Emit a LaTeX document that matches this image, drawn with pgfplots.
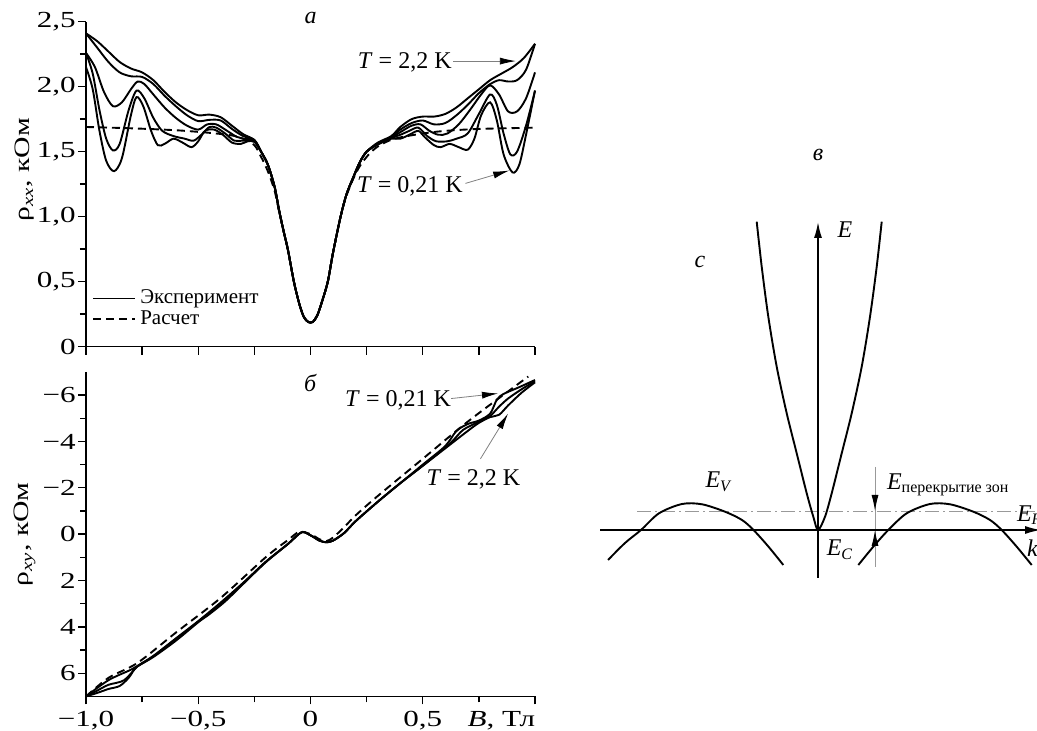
\documentclass[border=0pt]{standalone}
\usepackage{fontspec}
\setmainfont{Liberation Serif}
\newfontfamily\widefont{Liberation Serif}[FakeStretch=1.35]
\usepackage{pgfplots}
\pgfplotsset{compat=1.18}
\usetikzlibrary{arrows.meta}
\tikzset{lbl/.style={font=\fontsize{12}{14}\selectfont}}
\begin{document}
\begin{tikzpicture}
\useasboundingbox (0pt,0pt) rectangle (518.5pt,365.5pt);
\pgfplotsset{
  panel/.style={scale only axis, width=224.5pt, xmin=-1, xmax=1,
    axis x line*=bottom, axis y line*=left, tick align=outside,
    major tick length=4pt, minor tick length=3pt,
    tick style={black, line width=0.7pt}, axis line style={line width=0.75pt},
    tick label style={font=\widefont\fontsize{11.5}{13}\selectfont},
    yticklabel style={inner xsep=1pt},
    label style={font=\widefont\fontsize{11}{13}\selectfont},
    clip=false},
  exp/.style={black, line width=0.95pt, smooth},
  calc/.style={black, line width=0.95pt, smooth, dash pattern=on 4pt off 2.5pt},
  ann/.style={gray, line width=0.4pt, -{Latex[length=8pt,width=3.5pt,color=black]}},
}
% ---------- panel a ----------
\begin{axis}[panel, at={(43pt,192.15pt)}, anchor=south west, height=162.5pt,
  ymin=0, ymax=2.5, ytick={0,0.5,1,1.5,2,2.5},
  yticklabels={0,{0,5},{1,0},{1,5},{2,0},{2,5}},
  minor ytick={0.25,0.75,1.25,1.75,2.25},
  xtick={-1,-0.75,-0.5,-0.25,0,0.25,0.5,0.75,1}, xticklabels={},
  ylabel={ρ\textsubscript{\textit{xx}}, кОм},
  ylabel style={at={(axis description cs:-0.136,0.544)}, anchor=center},
  legend style={at={(axis cs:-1,0.5)}, anchor=north west, draw=none, fill=none,
    font=\fontsize{10.5}{12.5}\selectfont, row sep=-2pt},
  legend cell align=left,
  legend image code/.code={\draw[#1] (0pt,0pt) -- (21pt,0pt);}]
\addplot[exp, forget plot] coordinates {(-1,2.41) (-0.95,2.35) (-0.9,2.27) (-0.85,2.19) (-0.8,2.14) (-0.75,2.11) (-0.7,2.05) (-0.65,1.96) (-0.6,1.88) (-0.55,1.82) (-0.5,1.78) (-0.45,1.785) (-0.4,1.765) (-0.35,1.70) (-0.3,1.635)
 (-0.25,1.59) (-0.22,1.50) (-0.19,1.40) (-0.16,1.23) (-0.14,1.05) (-0.12,0.89) (-0.1,0.74) (-0.074,0.5) (-0.05,0.33) (-0.03,0.23) (-0.01,0.19) (0.01,0.19) (0.03,0.24) (0.05,0.34) (0.077,0.5) (0.1,0.72) (0.134,1.0) (0.16,1.17) (0.19,1.3) (0.22,1.42) (0.25,1.5) (0.3,1.57) (0.36,1.62)
 (0.4,1.69) (0.45,1.75) (0.5,1.77) (0.55,1.77) (0.6,1.79) (0.65,1.84) (0.7,1.91) (0.75,1.98) (0.8,2.05) (0.85,2.10) (0.9,2.15) (0.95,2.22) (1.0,2.33)};
\addplot[exp, forget plot] coordinates {(-1,2.41) (-0.95,2.30) (-0.9,2.19) (-0.85,2.11) (-0.8,2.08) (-0.75,2.075) (-0.7,2.02) (-0.65,1.93) (-0.6,1.85) (-0.55,1.78) (-0.5,1.735) (-0.45,1.745) (-0.4,1.74) (-0.35,1.675) (-0.3,1.62)
 (-0.25,1.59) (-0.22,1.50) (-0.19,1.40) (-0.16,1.23) (-0.14,1.05) (-0.12,0.89) (-0.1,0.74) (-0.074,0.5) (-0.05,0.33) (-0.03,0.23) (-0.01,0.19) (0.01,0.19) (0.03,0.24) (0.05,0.34) (0.077,0.5) (0.1,0.72) (0.134,1.0) (0.16,1.17) (0.19,1.3) (0.22,1.42) (0.25,1.5) (0.3,1.565) (0.36,1.615)
 (0.4,1.67) (0.45,1.72) (0.5,1.74) (0.55,1.71) (0.6,1.72) (0.65,1.78) (0.7,1.86) (0.75,1.95) (0.8,2.02) (0.84,2.05) (0.88,2.04) (0.92,2.05) (0.96,2.13) (1.0,2.33)};
\addplot[exp, forget plot] coordinates {(-1,2.26) (-0.96,2.15) (-0.92,1.96) (-0.88,1.85) (-0.84,1.88) (-0.8,1.98) (-0.77,2.04) (-0.74,2.02) (-0.7,1.94) (-0.65,1.84) (-0.6,1.76) (-0.55,1.70) (-0.5,1.67) (-0.46,1.71) (-0.42,1.71) (-0.38,1.67) (-0.33,1.615) (-0.3,1.6)
 (-0.25,1.585) (-0.22,1.50) (-0.19,1.40) (-0.16,1.23) (-0.14,1.05) (-0.12,0.89) (-0.1,0.74) (-0.074,0.5) (-0.05,0.33) (-0.03,0.23) (-0.01,0.19) (0.01,0.19) (0.03,0.24) (0.05,0.34) (0.077,0.5) (0.1,0.72) (0.134,1.0) (0.16,1.17) (0.19,1.3) (0.22,1.42) (0.25,1.5) (0.3,1.56) (0.36,1.61)
 (0.4,1.65) (0.45,1.70) (0.49,1.71) (0.53,1.66) (0.57,1.63) (0.61,1.64) (0.66,1.71) (0.71,1.82) (0.76,1.94) (0.8,2.01) (0.84,1.94) (0.88,1.81) (0.92,1.81) (0.96,1.91) (1.0,2.11)};
\addplot[exp, forget plot] coordinates {(-1,2.26) (-0.97,2.1) (-0.94,1.82) (-0.91,1.6) (-0.88,1.51) (-0.85,1.56) (-0.81,1.82) (-0.775,1.97) (-0.74,1.91) (-0.7,1.76) (-0.66,1.66) (-0.61,1.62) (-0.56,1.6) (-0.52,1.585) (-0.48,1.64) (-0.45,1.69) (-0.42,1.685) (-0.38,1.64) (-0.34,1.585) (-0.3,1.585)
 (-0.25,1.58) (-0.22,1.50) (-0.19,1.40) (-0.16,1.23) (-0.14,1.05) (-0.12,0.89) (-0.1,0.74) (-0.074,0.5) (-0.05,0.33) (-0.03,0.23) (-0.01,0.19) (0.01,0.19) (0.03,0.24) (0.05,0.34) (0.077,0.5) (0.1,0.72) (0.134,1.0) (0.16,1.17) (0.19,1.3) (0.22,1.42) (0.25,1.5) (0.3,1.56) (0.36,1.605)
 (0.4,1.63) (0.44,1.66) (0.48,1.685) (0.52,1.62) (0.56,1.58) (0.61,1.58) (0.65,1.60) (0.7,1.64) (0.75,1.79) (0.8,1.94) (0.83,1.86) (0.86,1.64) (0.89,1.48) (0.92,1.5) (0.96,1.7) (1.0,1.97)};
\addplot[exp, forget plot] coordinates {(-1,2.15) (-0.97,1.98) (-0.94,1.66) (-0.91,1.43) (-0.875,1.35) (-0.84,1.45) (-0.8,1.78) (-0.775,1.92) (-0.745,1.85) (-0.71,1.66) (-0.68,1.55) (-0.65,1.56) (-0.61,1.6) (-0.57,1.57) (-0.53,1.535) (-0.5,1.58) (-0.47,1.66) (-0.43,1.67) (-0.39,1.63) (-0.35,1.57) (-0.31,1.56) (-0.28,1.58)
 (-0.25,1.575) (-0.22,1.50) (-0.19,1.40) (-0.16,1.23) (-0.14,1.05) (-0.12,0.89) (-0.1,0.74) (-0.074,0.5) (-0.05,0.33) (-0.03,0.23) (-0.01,0.19) (0.01,0.19) (0.03,0.24) (0.05,0.34) (0.077,0.5) (0.1,0.72) (0.134,1.0) (0.16,1.17) (0.19,1.3) (0.22,1.42) (0.25,1.5) (0.3,1.555) (0.36,1.6)
 (0.4,1.6) (0.44,1.63) (0.48,1.66) (0.51,1.61) (0.55,1.55) (0.58,1.535) (0.62,1.56) (0.66,1.535) (0.7,1.515) (0.73,1.6) (0.76,1.78) (0.8,1.88) (0.83,1.74) (0.86,1.48) (0.9,1.34) (0.93,1.4) (0.96,1.63) (1.0,1.97)};
\addplot[calc, forget plot] coordinates {(-1,1.69) (-0.8,1.68) (-0.6,1.665) (-0.45,1.645) (-0.35,1.625) (-0.3,1.6) (-0.25,1.55) (-0.22,1.46) (-0.19,1.35) (-0.16,1.2) (-0.14,1.04) (-0.12,0.89) (-0.1,0.74) (-0.074,0.5) (-0.05,0.33) (-0.03,0.23) (-0.01,0.19) (0.01,0.19) (0.03,0.24) (0.05,0.34) (0.077,0.5) (0.1,0.72) (0.134,1.0) (0.16,1.16) (0.19,1.29) (0.22,1.39) (0.26,1.48) (0.3,1.54) (0.35,1.585) (0.4,1.61) (0.5,1.64) (0.6,1.66) (0.75,1.675) (1.0,1.685)};
\addlegendimage{black, line width=0.95pt}
\addlegendentry{Эксперимент}
\addlegendimage{black, line width=0.95pt, dash pattern=on 4pt off 2.5pt}
\addlegendentry{Расчет}
\addplot[ann, forget plot] coordinates {(0.635,2.197) (0.915,2.197)};
\addplot[ann, forget plot] coordinates {(0.69,1.256) (0.885,1.355)};
\node[lbl] at (axis cs:0.42,2.19) {\textit{T} = 2,2 K};
\node[lbl] at (axis cs:0.443,1.23) {\textit{T} = 0,21 K};
\node[lbl] at (axis cs:0,2.53) {\textit{а}};
\end{axis}
% ---------- panel b ----------
\begin{axis}[panel, at={(43pt,17.3pt)}, anchor=south west, height=162.25pt,
  ymin=-7, ymax=7, y dir=reverse,
  ytick={-6,-4,-2,0,2,4,6}, yticklabels={−6,−4,−2,0,2,4,6},
  minor ytick={-5,-3,-1,1,3,5},
  xtick={-1,-0.5,0,0.5,1},
  xticklabels={{−1,0},{−0,5},0,{0,5},{\makebox[0pt][r]{\textit{B}, Тл}}},
  minor xtick={-0.75,-0.25,0.25,0.75},
  ylabel={ρ\textsubscript{\textit{xy}}, кОм},
  ylabel style={at={(axis description cs:-0.136,0.5)}, anchor=center}]
\addplot[exp] coordinates {(-1,7.0) (-0.9,6.3) (-0.8,5.85) (-0.77,5.68) (-0.7,5.25) (-0.6,4.5) (-0.5,3.75) (-0.4,2.95) (-0.3,2.1) (-0.2,1.2) (-0.1,0.42) (-0.04,-0.08) (0,0.05) (0.04,0.28) (0.07,0.35) (0.1,0.28) (0.15,-0.05) (0.2,-0.55) (0.3,-1.4) (0.4,-2.2) (0.5,-2.95) (0.6,-3.7) (0.7,-4.45) (0.75,-4.8) (0.8,-5.05) (0.84,-5.15) (0.88,-5.55) (0.94,-6.1) (1.0,-6.55)};
\addplot[exp] coordinates {(-1,7.0) (-0.95,6.75) (-0.9,6.5) (-0.83,6.3) (-0.77,5.7) (-0.7,5.27) (-0.6,4.52) (-0.5,3.78) (-0.4,3.0) (-0.3,2.12) (-0.2,1.2) (-0.1,0.42) (-0.04,-0.08) (0,0.05) (0.04,0.28) (0.07,0.35) (0.1,0.28) (0.15,-0.05) (0.2,-0.55) (0.3,-1.4) (0.4,-2.2) (0.5,-2.95) (0.62,-3.9) (0.68,-4.5) (0.75,-4.85) (0.8,-5.1) (0.84,-5.5) (0.88,-5.85) (0.94,-6.25) (1.0,-6.6)};
\addplot[exp] coordinates {(-1,7.0) (-0.95,6.85) (-0.9,6.68) (-0.85,6.55) (-0.81,6.2) (-0.786,5.85) (-0.77,5.7) (-0.7,5.3) (-0.6,4.6) (-0.5,3.8) (-0.45,3.45) (-0.38,2.9) (-0.3,2.15) (-0.2,1.22) (-0.1,0.42) (-0.04,-0.08) (0,0.05) (0.04,0.28) (0.07,0.35) (0.1,0.28) (0.15,-0.05) (0.2,-0.55) (0.3,-1.4) (0.4,-2.2) (0.5,-3.0) (0.6,-3.8) (0.65,-4.45) (0.7,-4.75) (0.75,-4.9) (0.8,-5.2) (0.83,-5.8) (0.86,-6.05) (0.92,-6.3) (1.0,-6.65)};
\addplot[calc] coordinates {(-1,7.0) (-0.9,6.2) (-0.77,5.55) (-0.6,4.25) (-0.4,2.75) (-0.2,1.0) (-0.1,0.25) (-0.05,-0.1) (0,0.0) (0.04,0.22) (0.07,0.3) (0.1,0.15) (0.15,-0.3) (0.2,-0.8) (0.3,-1.65) (0.5,-3.25) (0.7,-4.85) (0.9,-6.3) (0.97,-6.8)};
\addplot[ann] coordinates {(0.626,-5.85) (0.835,-6.07)};
\addplot[ann] coordinates {(0.757,-3.25) (0.88,-5.2)};
\node[lbl] at (axis cs:0.39,-5.78) {\textit{T} = 0,21 K};
\node[lbl] at (axis cs:0.726,-2.38) {\textit{T} = 2,2 K};
\node[lbl] at (axis cs:0,-6.5) {\textit{б}};
\end{axis}
% ---------- panel c (band scheme) ----------
\begin{axis}[at={(299pt,75.5pt)}, anchor=south west, scale only axis,
  width=221pt, height=215pt, xmin=-220, xmax=222, ymin=-50, ymax=380,
  hide axis, clip=false]
\addplot[gray!80, line width=0.4pt, dash pattern=on 7pt off 2pt on 1pt off 2pt] coordinates {(-181,18.3) (225,18.3)};
\addplot[gray!80, line width=0.4pt] coordinates {(57,63) (57,-37)};
\addplot[black, line width=0.8pt, -{Latex[length=8pt,width=4pt]}] coordinates {(-218,0) (223,0)};
\addplot[black, line width=0.8pt, -{Latex[length=8pt,width=4pt]}] coordinates {(0,-48) (0,308)};
\addplot[black, line width=0.95pt, smooth] coordinates {(-61.3,308.3) (-56.3,263.3) (-49.7,213.3) (-41.3,163.3) (-31.3,116.7) (-21.3,76.7) (-11.3,36.7) (-4.7,13.3) (0,0) (7,13.3) (13.7,36.7) (23.7,76.7) (33.7,116.7) (43.7,163.3) (52,213.3) (58.7,263.3) (63.7,308.3)};
\addplot[black, line width=0.95pt, smooth] coordinates {(-210,-30) (-193,-13) (-177,0) (-159,16.7) (-136,26) (-116,25.7) (-93,18.3) (-76,10) (-64.5,0) (-49.5,-16.7) (-34.7,-35)};
\addplot[black, line width=0.95pt, smooth] coordinates {(40.3,-35) (55.3,-16.7) (70.3,0) (88.7,16.7) (112,26) (132,25.7) (155.3,18.3) (172,10) (183.7,0) (198.7,-16.7) (213.7,-35)};
\addplot[black, line width=0.5pt, -{Latex[length=8pt,width=3.5pt]}] coordinates {(57,34) (57,19)};
\addplot[black, line width=0.5pt, -{Latex[length=8pt,width=3.5pt]}] coordinates {(57,-15) (57,0)};
\node[lbl, anchor=center] at (axis cs:27,300) {\textit{E}};
\node[lbl] at (axis cs:-118,268) {\textit{c}};
\node[lbl] at (axis cs:0,375) {\textit{в}};
\node[lbl] at (axis cs:-99,48) {\textit{E}\textsubscript{\textit{V}}};
\node[lbl] at (axis cs:22,-20) {\textit{E}\textsubscript{\textit{C}}};
\node[lbl, anchor=west] at (axis cs:62,45) {\textit{E}\textsubscript{перекрытие зон}};
\node[lbl, anchor=west] at (axis cs:192,15) {\textit{E}\textsubscript{\textit{F}}};
\node[lbl, anchor=west] at (axis cs:202,-18) {\textit{k}};
\end{axis}
\end{tikzpicture}
\end{document}
